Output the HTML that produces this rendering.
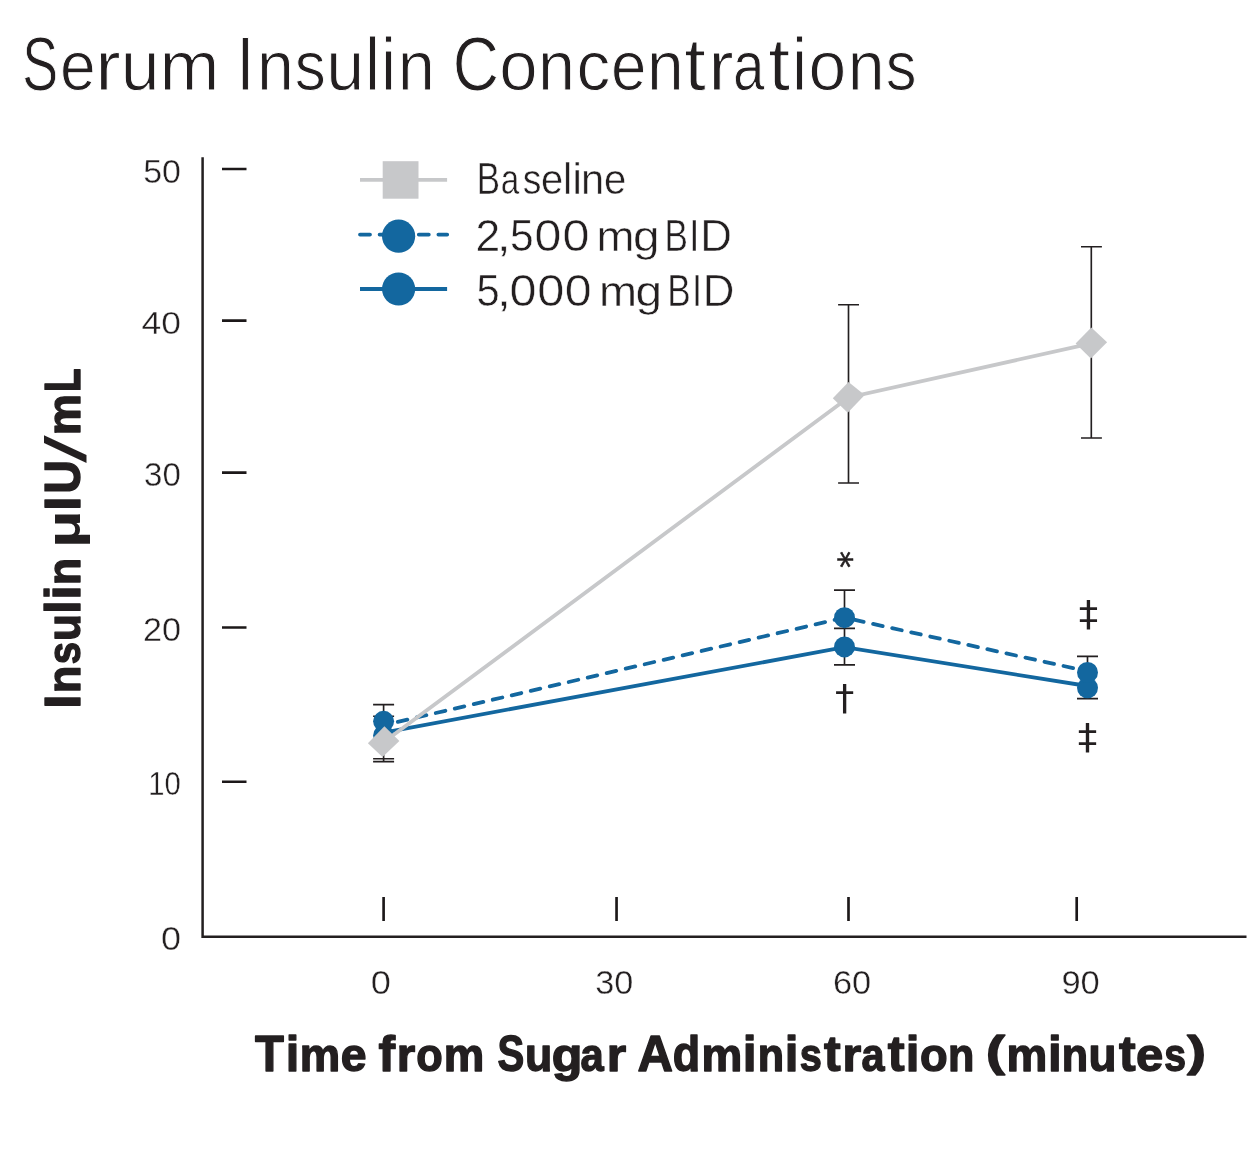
<!DOCTYPE html>
<html lang="en">
<head>
<meta charset="utf-8">
<title>Serum Insulin Concentrations</title>
<style>
html,body{margin:0;padding:0;background:#fff;}
body{width:1260px;height:1149px;overflow:hidden;}
svg{display:block;}
text{font-family:"Liberation Sans",sans-serif;fill:#231f20;paint-order:fill stroke;stroke-linejoin:round;}
.mk text{font-family:"DejaVu Sans","Liberation Sans",sans-serif;}
</style>
</head>
<body>
<svg width="1260" height="1149" viewBox="0 0 1260 1149">
<rect width="1260" height="1149" fill="#fff"/>
<!-- Chart title -->
<text id="title" y="89.5" font-size="75.5" stroke="#fff" stroke-width="1.0"><tspan x="22.15" textLength="35.90" lengthAdjust="spacingAndGlyphs">S</tspan><tspan x="59.89" font-size="70.0" textLength="35.69" lengthAdjust="spacingAndGlyphs">e</tspan><tspan x="95.17" font-size="70.0" textLength="25.43" lengthAdjust="spacingAndGlyphs">r</tspan><tspan x="120.63" font-size="70.0" textLength="38.73" lengthAdjust="spacingAndGlyphs">u</tspan><tspan x="159.61" font-size="70.0" textLength="59.89" lengthAdjust="spacingAndGlyphs">m</tspan> <tspan x="236.30" textLength="18.19" lengthAdjust="spacingAndGlyphs">I</tspan><tspan x="256.93" font-size="70.0" textLength="36.84" lengthAdjust="spacingAndGlyphs">n</tspan><tspan x="294.76" font-size="70.0" textLength="30.99" lengthAdjust="spacingAndGlyphs">s</tspan><tspan x="326.23" font-size="70.0" textLength="37.92" lengthAdjust="spacingAndGlyphs">u</tspan><tspan x="365.00" font-size="74.1" textLength="14.97" lengthAdjust="spacingAndGlyphs">l</tspan><tspan x="380.80" font-size="74.1" textLength="15.57" lengthAdjust="spacingAndGlyphs">i</tspan><tspan x="397.80" font-size="70.0" textLength="37.11" lengthAdjust="spacingAndGlyphs">n</tspan> <tspan x="452.70" textLength="46.19" lengthAdjust="spacingAndGlyphs">C</tspan><tspan x="499.15" font-size="70.0" textLength="38.33" lengthAdjust="spacingAndGlyphs">o</tspan><tspan x="538.01" font-size="70.0" textLength="36.97" lengthAdjust="spacingAndGlyphs">n</tspan><tspan x="576.62" font-size="70.0" textLength="33.79" lengthAdjust="spacingAndGlyphs">c</tspan><tspan x="610.91" font-size="70.0" textLength="35.44" lengthAdjust="spacingAndGlyphs">e</tspan><tspan x="647.05" font-size="70.0" textLength="36.70" lengthAdjust="spacingAndGlyphs">n</tspan><tspan x="684.32" font-size="74.0" textLength="21.59" lengthAdjust="spacingAndGlyphs">t</tspan><tspan x="708.17" font-size="70.0" textLength="25.43" lengthAdjust="spacingAndGlyphs">r</tspan><tspan x="732.97" font-size="70.0" textLength="31.48" lengthAdjust="spacingAndGlyphs">a</tspan><tspan x="768.21" font-size="74.0" textLength="21.82" lengthAdjust="spacingAndGlyphs">t</tspan><tspan x="791.70" font-size="74.1" textLength="15.57" lengthAdjust="spacingAndGlyphs">i</tspan><tspan x="808.61" font-size="70.0" textLength="37.72" lengthAdjust="spacingAndGlyphs">o</tspan><tspan x="847.83" font-size="70.0" textLength="36.84" lengthAdjust="spacingAndGlyphs">n</tspan><tspan x="885.68" font-size="70.0" textLength="30.75" lengthAdjust="spacingAndGlyphs">s</tspan></text>
<!-- Axes -->
<g stroke="#231f20" fill="none">
<path d="M202.6 157.3V936.65H1246.5" stroke-width="2.5"/>
<g stroke="#1c1819">
<path d="M222 168.9H246.5M222 320.6H246.5M222 472.6H246.5M222 627.4H246.5M222 781.7H246.5" stroke-width="2.55"/>
<path d="M383.6 897V921M616.55 897V921M848.5 897V921M1076.7 897V921" stroke-width="2.65"/>
</g>
</g>
<!-- Legend symbols -->
<g id="legend-sym">
<path d="M360 179.9H447.1" stroke="#c7c8ca" stroke-width="3.8"/>
<rect x="382.7" y="161.2" width="35.8" height="37.5" fill="#c7c8ca"/>
<path d="M360 234.6H447.2" stroke="#13679f" stroke-width="3.8" stroke-dasharray="10 9.6" stroke-linecap="round"/>
<circle cx="398.6" cy="236.2" r="16.6" fill="#13679f"/>
<path d="M360 289H447.1" stroke="#13679f" stroke-width="3.8"/>
<circle cx="398.6" cy="289" r="16.6" fill="#13679f"/>
</g>
<!-- Error bars -->
<g id="err" stroke="#231f20" stroke-width="1.65" fill="none">
<path d="M383.6 704.6V761.6M373.1 704.6H394.1M373.1 716.2H394.1M373.1 758.7H394.1M373.1 761.6H394.1"/>
<path d="M848.5 304.7V483M838.1 304.7H859M838.1 483H859"/>
<path d="M1091.3 246.7V438M1081 246.7H1101.9M1081 438H1101.9"/>
<path d="M844.5 590.1V664.8M834 590.1H855M834 628.3H855M834 664.8H855"/>
<path d="M1087.5 656.3V698.6M1077 656.3H1098M1077 698.6H1098"/>
</g>
<!-- Blue series -->
<g id="blue" fill="none" stroke="#13679f" stroke-width="3.8">
<path d="M383.6 732.6L844.5 647.2L1087.5 686"/>
<g stroke-dasharray="9.8 9.7" stroke-linecap="round">
<path d="M383.6 725.2L844.5 617.6" stroke-dashoffset="4.9"/>
<path d="M844.5 617.6L1087.5 671.3" stroke-dashoffset="9.7"/>
</g>
</g>
<g fill="#13679f">
<circle cx="383.6" cy="735.5" r="10.5"/>
<circle cx="383.6" cy="721.3" r="10.5"/>
<circle cx="844.5" cy="646.9" r="10.5"/>
<circle cx="844.5" cy="617.7" r="10.5"/>
<circle cx="1087.5" cy="687.8" r="10.5"/>
<circle cx="1087.5" cy="672.4" r="10.5"/>
</g>
<!-- Baseline series -->
<g id="gray">
<path d="M383.6 742.3L848.5 397.4L1091.3 343.4" fill="none" stroke="#c7c8ca" stroke-width="3.8"/>
<g fill="#c7c8ca">
<polygon points="367.9,743.2 384.4,726.3 399.4,741 382.5,757.1"/>
<polygon points="832.8,398.2 848.5,382.1 864.7,394.9 847.7,412.7"/>
<polygon points="1075.6,343.6 1091.3,327.5 1107.1,342.2 1090.8,358.4"/>
</g>
</g>

<!-- Tick labels -->
<g id="ylab" font-size="31.5">
<text transform="matrix(1.0781 0 0 1.0299 143.18 182.50)" stroke="#fff" stroke-width="0.35">50</text>
<text transform="matrix(1.1262 0 0 1.0207 141.57 334.10)" stroke="#fff" stroke-width="0.35">40</text>
<text transform="matrix(1.0500 0 0 1.0391 144.12 486.20)" stroke="#fff" stroke-width="0.35">30</text>
<text transform="matrix(1.0866 0 0 1.0299 142.90 640.90)" stroke="#fff" stroke-width="0.35">20</text>
<text transform="matrix(0.9290 0 0 1.0483 148.18 795.30)" stroke="#fff" stroke-width="0.35">10</text>
<text transform="matrix(1.1448 0 0 1.0391 160.98 949.70)" stroke="#fff" stroke-width="0.35">0</text>
</g>
<g id="xlab" font-size="31.5">
<text transform="matrix(1.1517 0 0 1.0391 370.87 993.80)" stroke="#fff" stroke-width="0.35">0</text>
<text transform="matrix(1.0875 0 0 1.0391 595.27 993.80)" stroke="#fff" stroke-width="0.35">30</text>
<text transform="matrix(1.0929 0 0 1.0391 832.89 993.80)" stroke="#fff" stroke-width="0.35">60</text>
<text transform="matrix(1.0961 0 0 1.0391 1061.38 993.80)" stroke="#fff" stroke-width="0.35">90</text>
</g>
<!-- Axis titles -->
<text id="xtitle" y="1070.55" font-size="50" font-weight="bold" stroke="#231f20" stroke-width="1.4"><tspan x="255.10" y="1070.55" textLength="28.91" lengthAdjust="spacingAndGlyphs">T</tspan><tspan x="285.85" y="1070.55" font-size="50.5" textLength="13.54" lengthAdjust="spacingAndGlyphs">i</tspan><tspan x="299.68" y="1070.55" font-size="47" textLength="40.44" lengthAdjust="spacingAndGlyphs">m</tspan><tspan x="340.77" y="1070.55" font-size="47" textLength="25.81" lengthAdjust="spacingAndGlyphs">e</tspan> <tspan x="378.55" y="1070.55" font-size="50.5" textLength="16.58" lengthAdjust="spacingAndGlyphs">f</tspan><tspan x="396.68" y="1070.55" font-size="47" textLength="18.47" lengthAdjust="spacingAndGlyphs">r</tspan><tspan x="416.35" y="1070.55" font-size="47" textLength="26.48" lengthAdjust="spacingAndGlyphs">o</tspan><tspan x="443.67" y="1070.55" font-size="47" textLength="40.55" lengthAdjust="spacingAndGlyphs">m</tspan> <tspan x="497.40" y="1070.55" textLength="26.79" lengthAdjust="spacingAndGlyphs">S</tspan><tspan x="525.06" y="1070.55" font-size="47" textLength="27.28" lengthAdjust="spacingAndGlyphs">u</tspan><tspan x="551.76" y="1070.55" font-size="47" textLength="30.67" lengthAdjust="spacingAndGlyphs">g</tspan><tspan x="580.43" y="1070.55" font-size="47" textLength="23.20" lengthAdjust="spacingAndGlyphs">a</tspan><tspan x="606.75" y="1070.55" font-size="47" textLength="19.40" lengthAdjust="spacingAndGlyphs">r</tspan> <tspan x="637.51" y="1070.55" textLength="35.49" lengthAdjust="spacingAndGlyphs">A</tspan><tspan x="672.87" y="1070.55" font-size="50.5" textLength="27.46" lengthAdjust="spacingAndGlyphs">d</tspan><tspan x="701.46" y="1070.55" font-size="47" textLength="40.78" lengthAdjust="spacingAndGlyphs">m</tspan><tspan x="742.68" y="1070.55" font-size="50.5" textLength="13.87" lengthAdjust="spacingAndGlyphs">i</tspan><tspan x="757.71" y="1070.55" font-size="47" textLength="26.33" lengthAdjust="spacingAndGlyphs">n</tspan><tspan x="784.81" y="1070.55" font-size="50.5" textLength="13.70" lengthAdjust="spacingAndGlyphs">i</tspan><tspan x="799.75" y="1070.55" font-size="47" textLength="22.11" lengthAdjust="spacingAndGlyphs">s</tspan><tspan x="823.90" y="1070.55" font-size="49.4" textLength="16.65" lengthAdjust="spacingAndGlyphs">t</tspan><tspan x="842.44" y="1070.55" font-size="47" textLength="18.70" lengthAdjust="spacingAndGlyphs">r</tspan><tspan x="861.54" y="1070.55" font-size="47" textLength="23.00" lengthAdjust="spacingAndGlyphs">a</tspan><tspan x="887.80" y="1070.55" font-size="49.4" textLength="16.85" lengthAdjust="spacingAndGlyphs">t</tspan><tspan x="905.81" y="1070.55" font-size="50.5" textLength="13.70" lengthAdjust="spacingAndGlyphs">i</tspan><tspan x="919.90" y="1070.55" font-size="47" textLength="27.68" lengthAdjust="spacingAndGlyphs">o</tspan><tspan x="947.91" y="1070.55" font-size="47" textLength="26.33" lengthAdjust="spacingAndGlyphs">n</tspan> <tspan x="986.13" y="1065.75" font-size="43.23" textLength="18.89" lengthAdjust="spacingAndGlyphs">(</tspan><tspan x="1006.46" y="1070.55" font-size="47" textLength="40.78" lengthAdjust="spacingAndGlyphs">m</tspan><tspan x="1047.91" y="1070.55" font-size="50.5" textLength="13.70" lengthAdjust="spacingAndGlyphs">i</tspan><tspan x="1061.81" y="1070.55" font-size="47" textLength="26.33" lengthAdjust="spacingAndGlyphs">n</tspan><tspan x="1088.41" y="1070.55" font-size="47" textLength="28.00" lengthAdjust="spacingAndGlyphs">u</tspan><tspan x="1118.90" y="1070.55" font-size="49.4" textLength="16.65" lengthAdjust="spacingAndGlyphs">t</tspan><tspan x="1135.90" y="1070.55" font-size="47" textLength="27.23" lengthAdjust="spacingAndGlyphs">e</tspan><tspan x="1164.37" y="1070.55" font-size="47" textLength="21.78" lengthAdjust="spacingAndGlyphs">s</tspan><tspan x="1187.27" y="1065.75" font-size="43.23" textLength="18.65" lengthAdjust="spacingAndGlyphs">)</tspan></text>
<g transform="rotate(-90)">
<text id="ytitle" y="80.4" font-size="49.6" font-weight="bold" stroke="#231f20" stroke-width="1.4"><tspan x="-708.85" y="80.40" textLength="14.27" lengthAdjust="spacingAndGlyphs">I</tspan><tspan x="-693.31" y="80.40" font-size="46.8" textLength="27.57" lengthAdjust="spacingAndGlyphs">n</tspan><tspan x="-664.16" y="80.40" font-size="46.8" textLength="22.36" lengthAdjust="spacingAndGlyphs">s</tspan><tspan x="-641.03" y="80.40" font-size="46.8" textLength="27.04" lengthAdjust="spacingAndGlyphs">u</tspan><tspan x="-613.63" y="80.40" font-size="50.2" textLength="13.36" lengthAdjust="spacingAndGlyphs">l</tspan><tspan x="-599.83" y="80.40" font-size="50.2" textLength="14.38" lengthAdjust="spacingAndGlyphs">i</tspan><tspan x="-585.14" y="80.40" font-size="46.8" textLength="27.39" lengthAdjust="spacingAndGlyphs">n</tspan> <tspan x="-547.99" y="80.40" font-size="46.8" stroke-width="0" textLength="37.69" lengthAdjust="spacingAndGlyphs">µ</tspan><tspan x="-510.71" y="80.40" textLength="14.11" lengthAdjust="spacingAndGlyphs">I</tspan><tspan x="-493.72" y="80.40" textLength="33.71" lengthAdjust="spacingAndGlyphs">U</tspan><tspan x="-463.00" y="85.85" font-size="57.62" font-weight="normal" stroke-width="0" textLength="27.83" lengthAdjust="spacingAndGlyphs">/</tspan><tspan x="-435.18" y="80.40" font-size="46.8" textLength="41.29" lengthAdjust="spacingAndGlyphs">m</tspan><tspan x="-392.04" y="80.40" textLength="23.61" lengthAdjust="spacingAndGlyphs">L</tspan></text>
</g>
<!-- Legend labels -->
<g id="legend">
<text id="leg1" y="194.1" font-size="44.2" stroke="#fff" stroke-width="0.5"><tspan x="476.73" textLength="23.33" lengthAdjust="spacingAndGlyphs">B</tspan><tspan x="500.71" font-size="41.8" textLength="18.49" lengthAdjust="spacingAndGlyphs">a</tspan><tspan x="522.66" font-size="41.8" textLength="18.64" lengthAdjust="spacingAndGlyphs">s</tspan><tspan x="541.09" font-size="41.8" textLength="22.15" lengthAdjust="spacingAndGlyphs">e</tspan><tspan x="562.90" font-size="43.5" textLength="9.23" lengthAdjust="spacingAndGlyphs">l</tspan><tspan x="572.30" font-size="43.5" textLength="9.82" lengthAdjust="spacingAndGlyphs">i</tspan><tspan x="580.91" font-size="41.8" textLength="23.18" lengthAdjust="spacingAndGlyphs">n</tspan><tspan x="604.08" font-size="41.8" textLength="22.27" lengthAdjust="spacingAndGlyphs">e</tspan></text>
<text id="leg2" y="250.8" font-size="44.2" stroke="#fff" stroke-width="0.5"><tspan x="475.49" textLength="24.70" lengthAdjust="spacingAndGlyphs">2</tspan><tspan x="496.61" textLength="14.41" lengthAdjust="spacingAndGlyphs">,</tspan><tspan x="510.03" textLength="23.67" lengthAdjust="spacingAndGlyphs">5</tspan><tspan x="534.51" textLength="26.86" lengthAdjust="spacingAndGlyphs">0</tspan><tspan x="562.50" textLength="26.98" lengthAdjust="spacingAndGlyphs">0</tspan> <tspan x="596.42" font-size="41.8" textLength="38.04" lengthAdjust="spacingAndGlyphs">m</tspan><tspan x="632.91" font-size="41.8" textLength="26.63" lengthAdjust="spacingAndGlyphs">g</tspan> <tspan x="664.62" textLength="23.46" lengthAdjust="spacingAndGlyphs">B</tspan><tspan x="689.29" textLength="10.15" lengthAdjust="spacingAndGlyphs">I</tspan><tspan x="700.13" textLength="31.67" lengthAdjust="spacingAndGlyphs">D</tspan></text>
<text id="leg3" y="306.1" font-size="44.2" stroke="#fff" stroke-width="0.5"><tspan x="476.58" textLength="23.18" lengthAdjust="spacingAndGlyphs">5</tspan><tspan x="496.71" textLength="14.41" lengthAdjust="spacingAndGlyphs">,</tspan><tspan x="509.50" textLength="26.98" lengthAdjust="spacingAndGlyphs">0</tspan><tspan x="537.20" textLength="27.10" lengthAdjust="spacingAndGlyphs">0</tspan><tspan x="564.81" textLength="26.86" lengthAdjust="spacingAndGlyphs">0</tspan> <tspan x="599.12" font-size="41.8" textLength="38.04" lengthAdjust="spacingAndGlyphs">m</tspan><tspan x="635.61" font-size="41.8" textLength="26.63" lengthAdjust="spacingAndGlyphs">g</tspan> <tspan x="667.32" textLength="23.46" lengthAdjust="spacingAndGlyphs">B</tspan><tspan x="691.99" textLength="10.15" lengthAdjust="spacingAndGlyphs">I</tspan><tspan x="702.83" textLength="31.67" lengthAdjust="spacingAndGlyphs">D</tspan></text>
</g>
<!-- Significance marks -->
<g id="marks" class="mk">
<text font-size="30" transform="rotate(90 844.35 559.55) matrix(1.1333 0 0 1.0947 835.85 576.38)" stroke="#231f20" stroke-width="0.5">*</text>
<text font-size="34" transform="matrix(1.1333 0 0 1.0643 834.97 710.44)">†</text>
<text font-size="34" transform="matrix(1.1400 0 0 1.0571 1078.76 626.16)">‡</text>
<text font-size="34" transform="matrix(1.1467 0 0 1.0571 1077.75 749.26)">‡</text>
</g>
</svg>
</body>
</html>
